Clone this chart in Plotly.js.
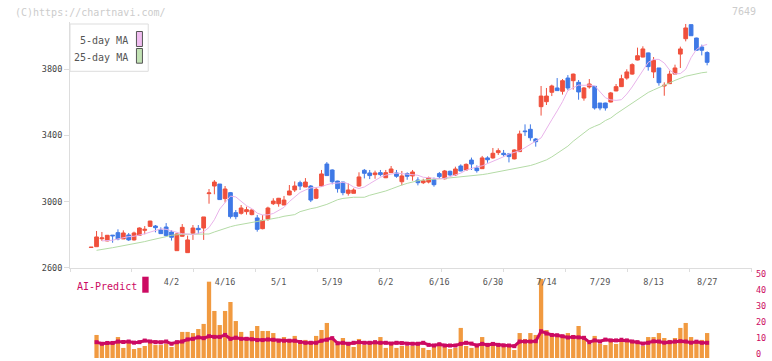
<!DOCTYPE html>
<html>
<head>
<meta charset="utf-8">
<script src="https://cdn.plot.ly/plotly-3.0.1.min.js"></script>
<style>html,body{margin:0;padding:0;background:#fff;}#chart{width:772px;height:361px;}</style>
</head>
<body>
<div id="chart"></div>
<script>
// ---- data ----
var openP  = [2722,2727,2775,2762,2797,2812,2774,2798,2768,2796,2826,2850,2852,2828,2846,2816,2703,2790,2691,2808,2838,2840,3048,3094,3106,3018,3054,2933,2929,2939,2921,2901,2836,2894,2987,2987,2979,3040,3070,3114,3088,3094,3020,3094,3227,3191,3124,3118,3050,3050,3094,3189,3173,3163,3175,3144,3175,3173,3120,3169,3155,3130,3114,3118,3132,3169,3138,3183,3161,3215,3191,3251,3203,3199,3264,3264,3296,3292,3288,3258,3302,3427,3437,3378,3574,3604,3661,3687,3667,3747,3731,3721,3626,3693,3697,3596,3596,3602,3669,3695,3747,3771,3856,3874,3899,3784,3808,3699,3713,3771,3892,3985,4070,3989,3935,3901];
var highP  = [2724,2822,2816,2798,2797,2832,2826,2810,2818,2844,2852,2884,2858,2844,2870,2828,2808,2864,2794,2858,2858,2907,3076,3130,3106,3094,3058,2949,2979,2969,2953,2919,2919,2969,3020,3022,3034,3100,3122,3126,3142,3100,3088,3191,3239,3195,3126,3120,3110,3080,3177,3197,3191,3187,3191,3191,3215,3191,3185,3177,3191,3147,3138,3151,3145,3179,3191,3187,3211,3225,3231,3266,3219,3276,3274,3324,3322,3312,3294,3316,3429,3467,3467,3384,3699,3687,3707,3747,3741,3765,3774,3735,3693,3741,3699,3596,3598,3663,3711,3767,3800,3836,3931,3939,3901,3874,3808,3721,3792,3828,3937,4074,4070,3991,3949,3909];
var lowP   = [2722,2727,2762,2760,2751,2766,2774,2762,2764,2794,2802,2846,2814,2806,2788,2764,2703,2788,2691,2768,2804,2768,2987,3044,3012,2995,2897,2893,2921,2921,2917,2818,2832,2884,2979,2969,2979,3038,3058,3070,3088,2997,3015,3090,3155,3104,3054,3038,3036,3050,3090,3140,3136,3138,3153,3142,3173,3144,3098,3132,3126,3098,3106,3110,3090,3138,3134,3155,3155,3183,3187,3191,3175,3197,3235,3259,3282,3272,3237,3255,3300,3397,3368,3332,3520,3584,3638,3669,3647,3673,3677,3616,3610,3683,3556,3552,3550,3600,3667,3693,3737,3767,3854,3872,3792,3747,3701,3640,3711,3771,3808,3969,4003,3913,3884,3824];
var closeP = [2724,2786,2780,2796,2793,2774,2810,2768,2810,2840,2832,2882,2842,2806,2794,2784,2804,2844,2768,2840,2830,2907,3052,3118,3012,3076,2909,2909,2961,2951,2949,2832,2886,2961,3003,3020,3009,3064,3094,3094,3118,3009,3074,3167,3157,3120,3078,3054,3070,3070,3149,3171,3157,3173,3163,3175,3197,3153,3155,3153,3179,3114,3126,3143,3102,3151,3185,3161,3197,3185,3225,3227,3187,3264,3253,3292,3308,3284,3272,3312,3409,3423,3386,3362,3638,3638,3699,3671,3731,3687,3771,3663,3687,3711,3566,3566,3566,3657,3695,3743,3784,3828,3882,3923,3816,3854,3719,3703,3771,3808,3923,4050,4003,3915,3915,3842];
var ma5 = [null,null,2762,2762,2766,2774,2783,2788,2790,2796,2805,2815,2825,2835,2832,2823,2814,2805,2804,2801,2808,2818,2843,2890,2955,2995,3033,3028,3000,2975,2957,2930,2919,2920,2928,2945,2965,3000,3030,3055,3070,3083,3085,3090,3102,3110,3112,3117,3108,3088,3079,3088,3108,3128,3147,3160,3166,3172,3169,3167,3165,3159,3147,3143,3142,3138,3140,3150,3158,3172,3190,3202,3210,3216,3229,3242,3256,3271,3288,3296,3307,3326,3348,3366,3385,3443,3495,3548,3604,3671,3689,3705,3703,3705,3700,3665,3628,3615,3612,3616,3650,3693,3741,3787,3842,3860,3860,3838,3795,3772,3774,3800,3870,3920,3942,3950];
var ma25 = [null,2705,2709,2715,2721,2727,2733,2737,2745,2751,2758,2766,2772,2778,2788,2796,2800,2802,2802,2802,2802,2802,2804,2816,2828,2838,2848,2856,2862,2868,2874,2878,2882,2890,2896,2903,2911,2915,2921,2939,2949,2957,2963,2971,2983,2997,3011,3019,3023,3026,3026,3026,3038,3046,3054,3064,3076,3090,3100,3110,3120,3126,3130,3134,3136,3138,3140,3143,3146,3148,3151,3154,3158,3163,3168,3174,3178,3185,3190,3196,3202,3210,3218,3228,3238,3252,3270,3290,3310,3335,3365,3392,3415,3440,3455,3468,3490,3505,3530,3552,3575,3598,3620,3642,3660,3675,3688,3702,3718,3733,3748,3758,3765,3773,3779,3783];
var volume = [null,14.4,9.8,9.8,9.8,13.1,6.3,9.8,5.6,6.3,7.5,9.8,8.1,8.1,8.8,6.9,9.8,16.3,16.3,15.6,18.1,21.3,47.7,29.4,20.6,29.4,35.0,23.1,16.3,13.1,16.9,20.0,16.9,16.9,15.6,10.6,13.1,10.6,13.8,8.8,11.3,10.0,13.8,17.5,21.9,11.9,8.8,12.5,9.4,6.9,11.9,8.1,9.4,10.6,13.1,6.3,8.8,6.3,7.5,7.5,7.5,9.4,6.3,5.0,8.1,9.4,6.9,5.6,6.3,18.8,7.5,6.3,7.5,13.1,8.8,10.0,8.1,8.4,7.5,5.0,15.6,11.9,15.6,14.4,49.4,17.5,14.4,13.1,14.4,15.6,14.4,20.0,13.8,8.8,13.8,8.8,8.1,10.6,8.8,11.9,11.9,10.6,10.0,7.5,13.1,13.1,15.6,12.5,11.3,12.5,18.8,21.9,13.1,10.6,11.3,15.6];
var aiPredict = [null,9.9,8.9,9.4,9.4,10.3,10.0,10.3,9.6,9.9,10.9,10.3,9.9,9.8,10.3,8.9,9.9,10.3,11.6,12.0,12.9,12.4,13.6,13.2,13.2,14.4,12.0,12.7,12.0,12.0,11.7,11.2,11.2,11.6,11.4,10.8,10.8,10.8,10.8,10.0,9.5,9.5,9.5,10.8,11.4,12.4,9.2,9.5,8.9,9.5,9.9,9.5,9.5,9.9,9.5,9.5,9.0,9.5,9.3,8.9,8.9,8.9,9.5,8.2,7.8,8.6,7.8,7.8,7.8,8.85,9.5,9.0,7.8,8.85,8.2,8.8,8.2,7.9,7.8,7.4,10.3,10.3,10.3,10.5,16.7,15.3,14.4,14.2,13.6,12.8,13.1,12.9,12.6,9.9,11.0,10.3,11.5,11.0,11.0,11.4,11.0,10.3,9.9,9.0,9.5,10.4,10.3,9.6,9.9,10.3,10.5,10.3,9.6,10.2,9.5,9.5];
var dateTickIdx = [15,25,35,45,55,65,75,85,95,105,115];
var dateTickText = ['4/2','4/16','5/1','5/19','6/2','6/16','6/30','7/14','7/29','8/13','8/27'];
var priceTicks = [2600,3000,3400,3800];
var predTicks = [0,10,20,30,40,50];

// ---- build ----
var idx = [];
for (var i = 0; i < closeP.length; i++) idx.push(i);

var MONO = 'DejaVu Sans Mono, monospace';
var RED = '#f0503c', BLUE = '#3f79e6';

var traces = [
  {type:'scatter', mode:'lines', x:idx, y:ma25, xaxis:'x', yaxis:'y',
   line:{color:'#b4dba6', width:1}, hoverinfo:'skip'},
  {type:'scatter', mode:'lines', x:idx, y:ma5, xaxis:'x', yaxis:'y',
   line:{color:'#e9b3ea', width:1}, hoverinfo:'skip'},
  {type:'candlestick', x:idx, open:openP, high:highP, low:lowP, close:closeP,
   xaxis:'x', yaxis:'y', whiskerwidth:0,
   increasing:{line:{color:RED, width:1}, fillcolor:RED},
   decreasing:{line:{color:BLUE, width:1}, fillcolor:BLUE}, hoverinfo:'skip'},
  {type:'bar', x:idx, y:volume, xaxis:'x2', yaxis:'y2', width:0.8,
   marker:{color:'#f19a40', line:{width:0}}, hoverinfo:'skip'},
  {type:'scatter', mode:'lines+markers', x:idx, y:aiPredict, xaxis:'x2', yaxis:'y2',
   line:{color:'#cc0a62', width:3}, marker:{symbol:'square', size:4, color:'#cc0a62'},
   hoverinfo:'skip'}
];

var L = 70, PW = 682.5, H = 361;
function px(x){ return (x - L) / PW; }
function py(y){ return (H - y) / H; }

var layout = {
  width:772, height:361,
  margin:{l:70, r:19.5, t:0, b:0, pad:0},
  paper_bgcolor:'#ffffff', plot_bgcolor:'#ffffff',
  showlegend:false,
  boxgap:0.3, boxgroupgap:0,
  bargap:0.2,
  font:{family:MONO, size:9, color:'#444'},
  xaxis:{domain:[0,1], anchor:'y', type:'linear', range:[-3.955, 123.377],
    showline:true, linecolor:'#dddddd', linewidth:1,
    ticks:'outside', ticklen:3, tickcolor:'#dddddd', tickwidth:1,
    tickmode:'linear', tick0:-3.955, dtick:11.567,
    showticklabels:false, showgrid:false, zeroline:false,
    rangeslider:{visible:false}, fixedrange:true},
  yaxis:{domain:[py(267.7), py(22)], anchor:'x', range:[2600, 4086],
    showline:true, linecolor:'#dddddd', linewidth:1,
    ticks:'outside', ticklen:5, tickcolor:'#dddddd',
    tickmode:'array', tickvals:priceTicks, ticktext:priceTicks.map(String),
    tickfont:{family:MONO, size:8.5, color:'#444'}, ticklabeloverflow:'allow',
    showgrid:false, zeroline:false, fixedrange:true},
  xaxis2:{domain:[0,1], matches:'x', anchor:'free', position:py(275),
    showline:false, ticks:'', tickmode:'array', tickvals:dateTickIdx, ticktext:dateTickText,
    tickfont:{family:MONO, size:8.5, color:'#555'}, ticklabeloverflow:'allow',
    showgrid:false, zeroline:false, fixedrange:true},
  yaxis2:{domain:[py(358), py(278)], anchor:'x2', side:'right', range:[0,50],
    showline:false, ticks:'', tickmode:'array', tickvals:predTicks, ticktext:predTicks.map(String),
    tickfont:{family:MONO, size:8.5, color:'#cc0a62'}, ticklabelstandoff:3,
    ticklabelshift:-4, ticklabeloverflow:'allow',
    showgrid:false, zeroline:false, fixedrange:true},
  shapes:[
    {type:'rect', xref:'paper', yref:'paper', x0:px(70), x1:px(148.3), y0:py(71.3), y1:py(24),
     line:{color:'#dddddd', width:1}, fillcolor:'#ffffff', layer:'above'},
    {type:'rect', xref:'paper', yref:'paper', x0:px(136.5), x1:px(142.5), y0:py(46.5), y1:py(31.5),
     line:{color:'#555', width:1}, fillcolor:'#f0bdf0', layer:'above'},
    {type:'rect', xref:'paper', yref:'paper', x0:px(136.5), x1:px(142.5), y0:py(63.2), y1:py(48.5),
     line:{color:'#555', width:1}, fillcolor:'#c2e2b4', layer:'above'},
    {type:'rect', xref:'paper', yref:'paper', x0:px(142.3), x1:px(148.7), y0:py(292.7), y1:py(276.7),
     line:{width:0}, fillcolor:'#cc0a62', layer:'above'}
  ],
  annotations:[
    {text:'(C)https://chartnavi.com/', xref:'paper', yref:'paper', x:px(13), y:py(12.3),
     xanchor:'left', yanchor:'middle', showarrow:false, font:{family:MONO, size:10, color:'#cccccc'}},
    {text:'7649', xref:'paper', yref:'paper', x:px(758.5), y:py(11.7),
     xanchor:'right', yanchor:'middle', showarrow:false, font:{family:MONO, size:10, color:'#cccccc'}},
    {text:'5-day MA', xref:'paper', yref:'paper', x:px(130.5), y:py(40.7),
     xanchor:'right', yanchor:'middle', showarrow:false, font:{family:MONO, size:10, color:'#555'}},
    {text:'25-day MA', xref:'paper', yref:'paper', x:px(130.5), y:py(57.3),
     xanchor:'right', yanchor:'middle', showarrow:false, font:{family:MONO, size:10, color:'#555'}},
    {text:'AI-Predict', xref:'paper', yref:'paper', x:px(75), y:py(286.7),
     xanchor:'left', yanchor:'middle', showarrow:false, font:{family:MONO, size:10, color:'#cc0a62'}}
  ]
};

Plotly.newPlot('chart', traces, layout, {staticPlot:true, displayModeBar:false});
</script>
</body>
</html>
